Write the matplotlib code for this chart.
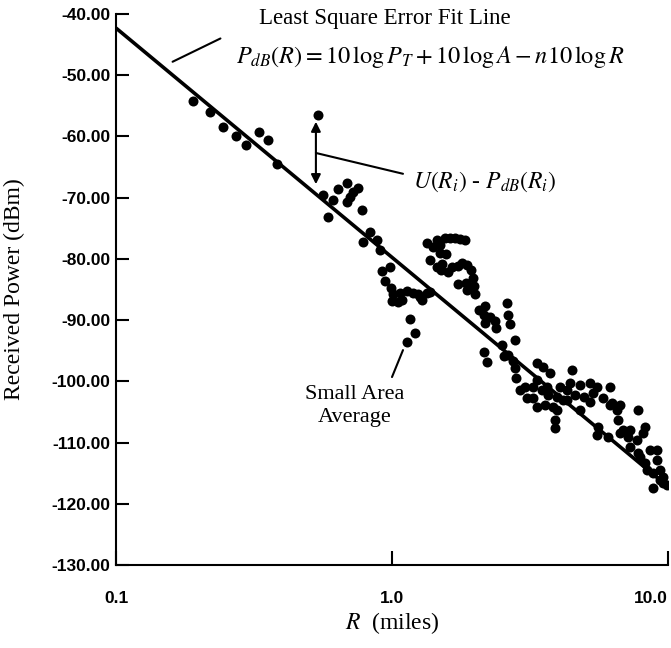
import numpy as np
import matplotlib
matplotlib.use("Agg")
import matplotlib.pyplot as plt

plt.rcParams["mathtext.fontset"] = "stix"
plt.rcParams["axes.unicode_minus"] = False

# small area averages: distance (miles) and received power (dBm)
r_miles = [0.190, 0.219, 0.244, 0.272, 0.296, 0.330, 0.355, 0.383, 0.539,
           0.562, 0.611, 0.586, 0.637, 0.687, 0.705, 0.722, 0.753, 0.687, 0.779,
           0.832, 0.785, 0.883, 0.905, 0.983, 0.920, 0.943, 0.992, 1.008, 1.000,
           1.069, 1.087, 1.133, 1.192, 1.243, 1.263, 1.284, 1.339, 1.373, 1.051,
           1.162, 1.212, 1.133,
           1.339, 1.408, 1.455, 1.493, 1.556, 1.622, 1.692, 1.764, 1.838, 1.493,
           1.569, 1.373, 1.455, 1.518, 1.505, 1.596, 1.650, 1.734, 1.793, 1.869,
           1.933, 1.966, 1.982, 1.998, 1.734, 1.854, 1.869,
           2.066, 2.173, 2.154, 2.265, 2.361, 2.381, 2.173, 2.610, 2.632, 2.676,
           2.790, 2.154, 2.209, 2.504, 2.546, 2.632, 2.744, 2.790, 2.814,
           3.033, 3.084, 3.243, 3.353, 3.353, 3.526, 3.496, 3.645, 3.737, 3.675,
           3.831, 3.896, 3.896, 3.353, 3.584, 3.961, 4.062, 4.165, 4.306, 4.415,
           4.489, 4.800, 4.963, 5.217, 5.217, 5.531, 5.815, 6.165, 6.268, 6.535,
           6.590, 6.871, 5.578, 5.531, 7.787, 7.284, 7.722, 8.119, 8.255, 7.284,
           7.787, 7.918, 8.607, 9.124, 9.124, 9.354, 8.825, 8.393, 9.592, 8.825,
           9.592, 9.900, 6.063, 6.701, 6.701, 6.165, 3.961,
           4.306, 4.603, 5.349, 7.164, 8.255, 9.354, 3.243, 2.910, 4.800]
p_dbm = [-54.2, -56.0, -58.5, -59.9, -61.4, -59.3, -60.6, -64.5, -56.5,
         -69.6, -70.4, -73.2, -68.6, -67.6, -69.9, -69.1, -68.4, -70.7, -72.0,
         -75.6, -77.2, -76.9, -78.5, -81.3, -82.0, -83.6, -84.8, -85.7, -86.9,
         -85.6, -86.7, -85.2, -85.6, -85.7, -86.2, -86.7, -85.6, -85.4, -87.0,
         -89.8, -92.1, -93.6,
         -77.4, -78.1, -76.9, -77.7, -76.6, -76.6, -76.6, -76.8, -76.9, -79.0,
         -79.2, -80.2, -81.3, -80.8, -81.8, -82.1, -81.3, -81.2, -80.7, -81.0,
         -81.8, -83.1, -84.4, -85.7, -84.1, -83.9, -85.1,
         -88.4, -87.7, -89.2, -89.5, -90.1, -91.3, -90.5, -87.2, -89.2, -90.6,
         -93.3, -95.2, -96.8, -94.1, -95.9, -95.7, -96.7, -97.8, -99.5,
         -100.9, -102.7, -100.9, -99.8, -97.0, -97.7, -101.4, -100.9, -98.6, -102.2,
         -104.2, -106.3, -107.6, -104.2, -103.9, -102.6, -100.9, -103.1, -101.4, -100.3,
         -98.2, -100.6, -102.6, -100.3, -103.4, -100.9, -102.7, -100.9, -103.5, -104.7,
         -106.3, -108.0, -107.5, -108.8, -104.7, -108.0, -109.6, -108.4, -107.5, -110.7,
         -111.7, -112.4, -111.2, -111.2, -112.9, -114.5, -115.0, -114.5, -115.6, -117.4,
         -116.6, -116.9, -109.1, -108.4, -103.9, -103.9, -104.7,
         -103.1, -102.2, -101.9, -109.1, -113.3, -116.1, -102.7, -101.4, -104.7]

# least square fit line end points
fit_r = [0.1, 10.0]
fit_p = [-42.3, -117.2]

y_ticks = [-40, -50, -60, -70, -80, -90, -100, -110, -120, -130]
y_labels = ["%.2f" % v for v in y_ticks]
x_ticks = [0.1, 1.0, 10.0]
x_labels = ["0.1", "1.0", "10.0"]

fig = plt.figure(figsize=(6.71, 6.48), dpi=100)
ax = fig.add_axes([0.1729, 0.1281, 0.8226, 0.8503])

ax.plot(fit_r, fit_p, color="black", lw=2.6, solid_capstyle="butt")
ax.plot(r_miles, p_dbm, "o", color="black", ms=7.2, mec="none")

ax.set_xscale("log")
ax.set_xlim(0.1, 10)
ax.set_ylim(-130, -40)
ax.set_xticks(x_ticks)
ax.set_xticklabels(x_labels)
ax.xaxis.set_minor_locator(matplotlib.ticker.NullLocator())
ax.set_yticks(y_ticks)
ax.set_yticklabels(y_labels)
ax.get_xticklabels()[-1].set_ha("right")

for lab in ax.get_xticklabels() + ax.get_yticklabels():
    lab.set_fontfamily("Liberation Sans")
    lab.set_fontweight("bold")
    lab.set_fontsize(12.5)

ax.tick_params(axis="y", direction="in", length=9, width=1.5, pad=4)
ax.tick_params(axis="x", direction="in", length=10, width=1.5, pad=19)
ax.spines["top"].set_visible(False)
ax.spines["right"].set_visible(False)
ax.spines["left"].set_linewidth(1.5)
ax.spines["bottom"].set_linewidth(1.5)

ax.set_ylabel("Received Power (dBm)", fontfamily="Liberation Serif", fontsize=17)
ax.yaxis.set_label_coords(-0.165, 0.5)
ax.set_xlabel("$R$  (miles)", fontfamily="Liberation Serif", fontsize=17)
ax.xaxis.set_label_coords(0.5, -0.082)

# annotations
ax.annotate("", xy=(0.157, -48.0), xytext=(0.244, -43.8),
            arrowprops=dict(arrowstyle="-", lw=1.5, color="black"))
ax.annotate("", xy=(0.530, -57.6), xytext=(0.530, -67.8),
            arrowprops=dict(arrowstyle="<|-|>", lw=1.5, color="black",
                            mutation_scale=14, shrinkA=0, shrinkB=0))
ax.annotate("", xy=(0.530, -62.7), xytext=(1.096, -66.1),
            arrowprops=dict(arrowstyle="-", lw=1.5, color="black",
                            shrinkA=0, shrinkB=0))
ax.annotate("", xy=(1.096, -94.9), xytext=(1.0, -99.3),
            arrowprops=dict(arrowstyle="-", lw=1.5, color="black",
                            shrinkA=0, shrinkB=0))

fig.text(0.574, 0.972, "Least Square Error Fit Line", ha="center", va="center",
         fontfamily="Liberation Serif", fontsize=16.5)
fig.text(0.641, 0.912, r"$P_{dB}(R) = 10\,\log P_T + 10\,\log A - n10\,\log R$",
         ha="center", va="center", fontsize=17.5)
fig.text(0.6155, 0.719, r"$U(R_i)$ - $P_{dB}(R_i)$", ha="left", va="center",
         fontfamily="Liberation Serif", fontsize=17)
fig.text(0.529, 0.374, "Small Area\nAverage", ha="center", va="center",
         fontfamily="Liberation Serif", fontsize=16, linespacing=1.3)

fig.savefig("out.png", dpi=100)
